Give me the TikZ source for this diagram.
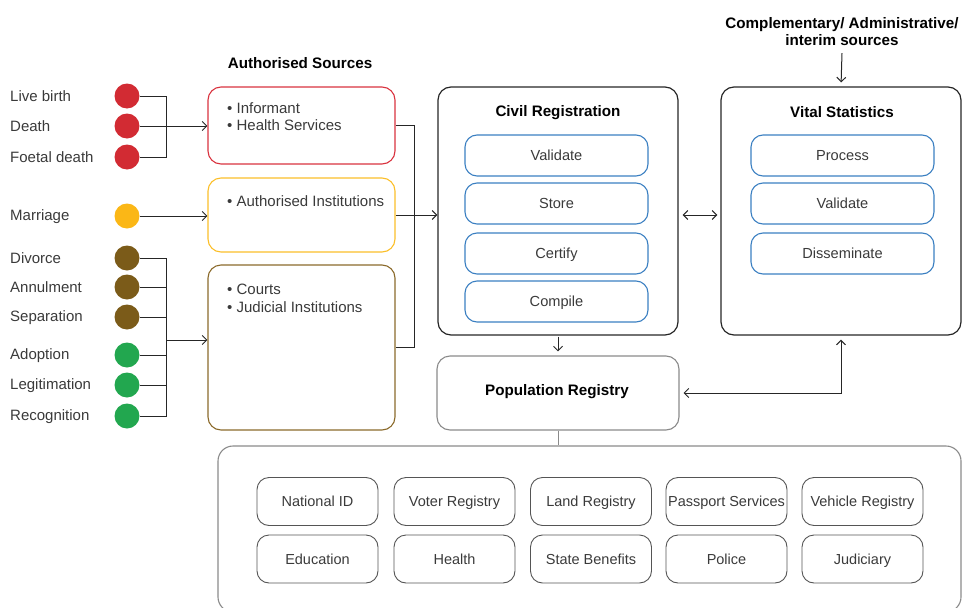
\documentclass[tikz,border=0pt]{standalone}
\usepackage{fontspec}
\setmainfont{Liberation Sans}
\usetikzlibrary{arrows.meta}
\definecolor{cred}{HTML}{D22B33}
\definecolor{cyellow}{HTML}{FBB716}
\definecolor{cbrown}{HTML}{7B5B19}
\definecolor{cgreen}{HTML}{22A74F}
\definecolor{cblue}{HTML}{3A7FC1}
\definecolor{ctext}{HTML}{3A3A3A}
\definecolor{cgray}{HTML}{8A8A8A}
\definecolor{cdark}{HTML}{555555}
\definecolor{credbox}{HTML}{D9333F}
\definecolor{cyelbox}{HTML}{FBBF2A}
\definecolor{cbrnbox}{HTML}{8B6A2B}
\begin{document}
\begin{tikzpicture}[x=1pt,y=-1pt,
  font=\fontsize{15}{17}\selectfont,
  lbl/.style={anchor=west, text=ctext, inner sep=0pt},
  ttl/.style={font=\fontsize{15.2}{17.5}\selectfont\bfseries, text=black, inner sep=0pt},
  dot/.style={circle, minimum size=25pt, inner sep=0pt},
  srcbox/.style={draw, rounded corners=13pt, inner sep=0pt, line width=1.1pt, minimum width=187pt},
  bigbox/.style={draw=black!85, rounded corners=13pt, inner sep=0pt, line width=1.2pt, minimum width=240pt, minimum height=248pt},
  stepbox/.style={draw=cblue, rounded corners=12pt, inner sep=0pt, line width=1.1pt, minimum width=183pt, minimum height=41pt, text=ctext, font=\fontsize{14.6}{17}\selectfont, text height=10.5pt, text depth=0.5pt},
  svcbox/.style={draw=cdark, rounded corners=12pt, inner sep=0pt, line width=0.9pt, minimum width=121pt, minimum height=48pt, text=ctext, font=\fontsize{14.5}{17}\selectfont, text height=10.5pt, text depth=0.5pt},
  conn/.style={line width=1pt, black!85},
  arr/.style={conn, -{Straight Barb[length=4.5pt,width=9pt]}},
  arrb/.style={conn, {Straight Barb[length=4.5pt,width=9pt]}-{Straight Barb[length=4.5pt,width=9pt]}},
]
\useasboundingbox (0,0) rectangle (962,608);

% ---- event labels
\node[lbl] (tlive) at (10,96.5) {Live birth};
\node[lbl] (tdeath) at (10,126.5) {Death};
\node[lbl] (tfoet) at (10,157.5) {Foetal death};
\node[lbl] (tmarr) at (10,217) {Marriage};
\node[lbl] (tdiv) at (10,258.5) {Divorce};
\node[lbl] (tann) at (10,287.5) {Annulment};
\node[lbl] (tsep) at (10,317.5) {Separation};
\node[lbl] (tado) at (10,355.5) {Adoption};
\node[lbl] (tleg) at (10,385.5) {Legitimation};
\node[lbl] (trec) at (10,416.5) {Recognition};

% ---- dots
\node[dot, fill=cred] (clive) at (127,96) {};
\node[dot, fill=cred] (cdeath) at (127,126) {};
\node[dot, fill=cred] (cfoet) at (127,157) {};
\node[dot, fill=cyellow] (cmarr) at (127,216) {};
\node[dot, fill=cbrown] (cdiv) at (127,258) {};
\node[dot, fill=cbrown] (cann) at (127,287) {};
\node[dot, fill=cbrown] (csep) at (127,317) {};
\node[dot, fill=cgreen] (cado) at (127,355) {};
\node[dot, fill=cgreen] (cleg) at (127,385) {};
\node[dot, fill=cgreen] (crec) at (127,416) {};

% ---- authorised sources
\node[ttl] (tauth) at (300,63.5) {Authorised Sources};
\node[srcbox, draw=credbox, minimum height=77pt] (redbox) at (301.5,125.5) {};
\node[srcbox, draw=cyelbox, minimum height=74pt] (yelbox) at (301.5,215) {};
\node[srcbox, draw=cbrnbox, minimum height=165pt] (brnbox) at (301.5,347.5) {};
\node[lbl] (tinf) at (227,108.5) {\textbullet\ Informant};
\node[lbl] (thea) at (227,125.5) {\textbullet\ Health Services};
\node[lbl] (tains) at (227,201.5) {\textbullet\ Authorised Institutions};
\node[lbl] (tcou) at (227,289.5) {\textbullet\ Courts};
\node[lbl] (tjud) at (227,307.5) {\textbullet\ Judicial Institutions};

% ---- civil registration
\node[bigbox] (cr) at (558,211) {};
\node[ttl] (tcr) at (558,112.5) {Civil Registration};
\node[stepbox] (s1) at (556.5,155.5) {Validate};
\node[stepbox] (s2) at (556.5,203.5) {Store};
\node[stepbox] (s3) at (556.5,253.5) {Certify};
\node[stepbox] (s4) at (556.5,301.5) {Compile};

% ---- vital statistics
\node[bigbox] (vs) at (841,211) {};
\node[ttl] (tvs) at (842,112.5) {Vital Statistics};
\node[stepbox] (v1) at (842.5,155.5) {Process};
\node[stepbox] (v2) at (842.5,203.5) {Validate};
\node[stepbox] (v3) at (842.5,253.5) {Disseminate};
\node[ttl, align=center] (comp) at (842,31.5) {Complementary/ Administrative/\\interim sources};

% ---- population registry
\node[draw=cgray, rounded corners=13pt, line width=1.1pt, minimum width=242pt, minimum height=74pt, inner sep=0pt] (pr) at (558,393) {};
\node[ttl] (tpr) at (557,391.5) {Population Registry};

% ---- services
\node[draw=cgray, rounded corners=15pt, line width=1.1pt, minimum width=743pt, minimum height=166pt, inner sep=0pt] (svc) at (589.5,529) {};
\node[svcbox] (b1) at (317.5,501.5) {National ID};
\node[svcbox] (b2) at (454.5,501.5) {Voter Registry};
\node[svcbox] (b3) at (591,501.5) {Land Registry};
\node[svcbox] (b4) at (726.5,501.5) {Passport Services};
\node[svcbox] (b5) at (862.5,501.5) {Vehicle Registry};
\node[svcbox] (b6) at (317.5,559) {Education};
\node[svcbox] (b7) at (454.5,559) {Health};
\node[svcbox] (b8) at (591,559) {State Benefits};
\node[svcbox] (b9) at (726.5,559) {Police};
\node[svcbox] (b10) at (862.5,559) {Judiciary};

% ---- connectors: events to sources
\coordinate (jx) at (166,0);
\coordinate (j2) at (166,340);
\draw[conn] (clive.east) -| (cfoet.east -| jx) -- (cfoet.east);
\draw[arr] (cdeath.east) -- (cdeath.east -| redbox.west);
\draw[arr] (cmarr.east) -- (cmarr.east -| yelbox.west);
\draw[conn] (cdiv.east) -| (crec.east -| jx) -- (crec.east);
\draw[conn] (cann.east) -- (cann.east -| jx);
\draw[conn] (csep.east) -- (csep.east -| jx);
\draw[conn] (cado.east) -- (cado.east -| jx);
\draw[conn] (cleg.east) -- (cleg.east -| jx);
\draw[arr] (j2) -- (j2 -| brnbox.west);

% ---- sources to civil registration
\coordinate (kx) at (414,0);
\draw[conn] (redbox.east) -| (brnbox.east -| kx) -- (brnbox.east);
\draw[conn] (yelbox.east) -- (yelbox.east -| kx);
\draw[arr] (yelbox.east -| kx) -- (yelbox.east -| cr.west);

% ---- other connectors
\draw[arrb, shorten <=4pt, shorten >=3pt] (yelbox.east -| cr.east) -- (yelbox.east -| vs.west);
\draw[arr, shorten >=4pt] (comp.south) ++(0,7) -- (vs.north);
\draw[arr, shorten <=1pt, shorten >=4pt] (cr.south) -- (pr.north);
\draw[arrb, shorten <=4pt, shorten >=4pt] (pr.east) -| (vs.south);
\draw[conn, cgray] (pr.south) -- (svc.north -| pr.south);
\end{tikzpicture}
\end{document}
